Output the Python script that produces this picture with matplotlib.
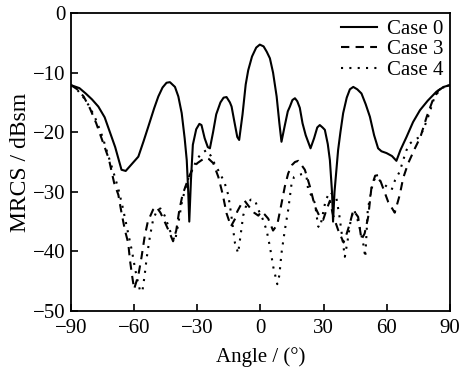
import numpy as np
import matplotlib.pyplot as plt

plt.rcParams['font.family'] = ['Liberation Serif', 'DejaVu Serif']
plt.rcParams['font.size'] = 15

# Case 0 (solid)
ang0 = [-90, -86, -83, -80, -77, -74, -71, -69, -66, -64, -61, -58, -55.5, -53.3,
        -50.5, -48.5, -46.5, -44.6, -43, -40.6, -39, -37.4, -36, -35, -34.3, -33.8,
        -33, -32.1, -30.5, -29, -28, -26.5, -25, -24, -22.5, -21, -19, -17.5, -16.1,
        -14.5, -13.7, -12.5, -11, -10.1, -8.5, -7, -5.8, -4, -2, -0.3, 1.5, 3, 4.5,
        6, 7.7, 9, 10, 11.5, 13, 14, 15.2, 16.4, 17.5, 18.7, 20, 21.5, 23.8, 25.5,
        27, 28.2, 29.5, 30.6, 32, 33, 34, 34.5, 35.2, 36.9, 38, 39.3, 41, 42.5, 44.1,
        46, 48, 50, 52, 54, 55.9, 57.5, 59.9, 62.5, 64.6, 66.5, 69.4, 72.5, 75.8,
        79.5, 83.6, 87, 90]
case0 = [-12.1, -12.6, -13.5, -14.5, -15.7, -17.5, -20.5, -22.5, -26.3, -26.5, -25.3,
         -24.1, -21.5, -19.1, -16.0, -14.0, -12.5, -11.7, -11.6, -12.4, -14.0, -16.8,
         -21.0, -24.7, -30.0, -35.0, -28.0, -22.1, -19.5, -18.6, -18.8, -21.0, -22.5,
         -22.7, -20.0, -17.0, -15.0, -14.2, -14.1, -15.0, -15.7, -18.0, -20.8, -21.3,
         -17.0, -12.0, -9.6, -7.3, -5.8, -5.3, -5.6, -6.5, -7.6, -10.0, -14.0, -18.5,
         -21.6, -19.0, -16.5, -15.7, -14.6, -14.3, -14.8, -15.9, -18.5, -20.5, -22.7,
         -21.0, -19.2, -18.8, -19.2, -19.6, -22.0, -24.7, -30.0, -35.0, -30.0, -23.0,
         -20.0, -16.8, -14.2, -12.8, -12.4, -12.8, -13.5, -15.3, -17.4, -20.5, -22.7,
         -23.2, -23.5, -24.0, -24.8, -23.0, -20.8, -18.3, -16.3, -14.7, -13.2, -12.4,
         -12.1]

# Case 3 (dashed)
ang3 = [-90, -87, -84, -81, -78, -75, -72, -69.5, -67.5, -66, -64.4, -62.8, -62, -61,
        -60, -58, -56.5, -55, -53.5, -51, -49.5, -47.5, -45.5, -43, -41.5, -40, -38.5,
        -37, -35.5, -34, -32, -30, -28, -26, -24.5, -22.4, -20, -18, -16.1, -14, -12,
        -11, -9, -7.5, -5.6, -3, -1, 0.5, 2, 3.7, 6, 8, 10, 11.6, 13.2, 15, 16.4, 18,
        19.5, 21.1, 23.5, 25.9, 28.2, 29.8, 31.4, 33, 34.5, 36.9, 39.5, 41, 42.5, 44.1,
        46.4, 48, 49.5, 51.2, 52.8, 54.5, 56, 58.3, 60.7, 63.8, 66.2, 67.8, 70.2, 73.4,
        76, 79, 82, 84.5, 87, 90]
case3 = [-12.1, -12.8, -14.0, -16.0, -18.5, -21.5, -24.5, -28.5, -30.5, -33.5, -36.4,
         -38.6, -41.4, -44.0, -46.3, -44.0, -41.0, -37.5, -35.0, -33.0, -32.5, -33.5,
         -35.0, -37.0, -38.3, -36.5, -33.0, -30.5, -29.0, -27.5, -26.0, -25.2, -24.7,
         -24.3, -24.5, -25.2, -27.5, -30.3, -33.6, -35.8, -34.5, -33.3, -32.0, -31.5,
         -32.4, -33.5, -34.0, -33.3, -33.8, -34.5, -36.5, -35.5, -32.0, -29.1, -26.9,
         -25.5, -25.0, -24.8, -25.5, -26.3, -29.1, -32.5, -34.2, -34.7, -33.0, -31.5,
         -33.9, -36.4, -38.5, -37.0, -35.3, -33.1, -34.2, -38.0, -37.0, -34.2, -29.1,
         -27.3, -27.2, -29.4, -31.7, -33.5, -30.5, -27.7, -25.2, -22.7, -20.8, -17.4,
         -14.5, -13.0, -12.4, -12.1]

# Case 4 (dotted)
ang4 = [-90, -87, -84, -81, -78, -75, -72.4, -70, -67.5, -65.5, -64, -62.5, -61, -59.5,
        -58, -57, -56, -55, -54, -52.5, -51, -49, -47.5, -45.5, -43, -40.6, -39, -37.4,
        -35.9, -34, -32, -30, -28, -25.5, -23.5, -21.5, -19.2, -17, -15.3, -14, -12.1,
        -10.6, -9.5, -8.2, -6.5, -4.5, -2.6, -1, 1, 2.9, 4.5, 6.1, 8, 9, 10, 11.6, 13.2,
        14.8, 16, 17.9, 20, 21.9, 22.7, 24, 25.9, 27.4, 28.3, 29.5, 31, 33, 34.5, 36.1,
        37.5, 39, 40.1, 41.5, 43, 44.5, 46, 47.5, 49, 49.8, 51, 52.8, 54, 55.5, 57.5,
        60, 62.3, 64, 66.2, 67.8, 69.4, 71, 73.5, 75.8, 78, 79.7, 82.8, 86, 90]
case4 = [-12.1, -12.9, -14.2, -15.8, -18.0, -20.8, -23.8, -26.5, -29.5, -32.5, -35.0,
         -37.5, -40.0, -43.0, -45.5, -46.8, -46.5, -44.0, -41.0, -37.5, -34.7, -33.0,
         -32.8, -34.0, -36.5, -38.3, -35.3, -31.9, -29.7, -27.5, -26.0, -24.5, -23.5,
         -23.0, -24.0, -25.5, -26.9, -28.5, -30.5, -33.5, -38.6, -40.3, -37.5, -34.0,
         -32.0, -31.3, -31.4, -33.0, -34.5, -36.4, -39.2, -42.6, -45.5, -44.0, -40.3,
         -36.4, -33.0, -28.6, -27.5, -27.2, -27.0, -27.5, -29.7, -30.5, -31.9, -35.8,
         -36.0, -34.0, -31.4, -30.0, -30.5, -31.1, -34.0, -38.0, -40.9, -38.0, -34.5,
         -33.0, -34.5, -36.5, -39.0, -41.0, -33.0, -29.5, -28.0, -27.5, -28.5, -29.1,
         -29.7, -28.0, -26.6, -24.7, -23.0, -21.9, -21.2, -20.8, -19.0, -17.4, -14.0,
         -12.6, -12.1]

xticks = [-90, -60, -30, 0, 30, 60, 90]
yticks = [-50, -40, -30, -20, -10, 0]

fig = plt.figure(figsize=(4.6, 3.73), dpi=100)
ax = fig.add_axes([0.1543, 0.1662, 0.8237, 0.7989])

ax.plot(ang0, case0, color='black', lw=1.5, ls='-', label='Case 0')
ax.plot(ang3, case3, color='black', lw=1.5, ls=(0, (4, 3)), label='Case 3')
ax.plot(ang4, case4, color='black', lw=1.5, ls=(0, (1, 3)), label='Case 4')

ax.set_xlim(-90, 90)
ax.set_ylim(-50, 0)
ax.set_xticks(xticks)
ax.set_yticks(yticks)
ax.tick_params(direction='in', length=5, width=1.2)
ax.tick_params(axis='y', pad=4)
ax.tick_params(axis='x', pad=6)
for s in ax.spines.values():
    s.set_linewidth(1.3)

ax.set_xlabel('Angle / (°)', labelpad=6)
ax.set_ylabel('MRCS / dBsm', fontsize=17, labelpad=1)

ax.legend(loc='upper right', frameon=False, handlelength=1.7, labelspacing=0.05,
          handletextpad=0.5, borderaxespad=0.2, borderpad=0.1)

plt.savefig('out.png')
